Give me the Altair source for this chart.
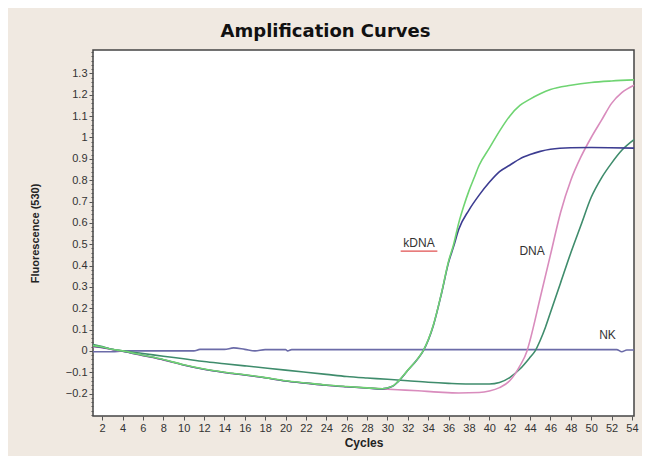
import altair as alt
import pandas as pd

# ---- data ----
GREEN_C = [1.1, 2, 3, 4, 6, 8, 10, 12, 14, 16, 18, 20, 22, 24, 26, 28, 29.5, 30.5, 31, 32, 33, 33.5, 34.5, 35.3, 36, 36.5,
           37, 37.5, 38, 38.5, 39, 40, 41, 42, 43, 44, 45, 46, 48, 50, 52, 54.2]
GREEN_V = [0.025, 0.018, 0.008, 0.0, -0.02, -0.04, -0.065, -0.085, -0.1, -0.112, -0.125, -0.14, -0.15, -0.16, -0.167, -0.173,
           -0.177, -0.165, -0.145, -0.09, -0.035, 0.0, 0.12, 0.27, 0.42, 0.5,
           0.6, 0.68, 0.75, 0.81, 0.87, 0.95, 1.03, 1.1, 1.15, 1.18, 1.205, 1.225, 1.245, 1.258, 1.265, 1.27]

BLUE_C = [1.1, 2, 3, 4, 6, 8, 10, 12, 14, 16, 18, 20, 22, 24, 26, 28, 29.5, 30.5, 31, 32, 33, 33.5, 34.5, 35.3, 36, 36.5,
          37, 38, 39, 40, 41, 42, 43, 44, 45, 46, 48, 50, 54.2]
BLUE_V = [0.022, 0.016, 0.007, -0.001, -0.021, -0.041, -0.066, -0.086, -0.101, -0.113, -0.126, -0.141, -0.151, -0.161, -0.168,
          -0.174, -0.178, -0.166, -0.146, -0.091, -0.036, -0.001, 0.118, 0.268, 0.415, 0.49,
          0.57, 0.66, 0.73, 0.79, 0.84, 0.87, 0.9, 0.92, 0.935, 0.945, 0.952, 0.953, 0.95]

PINK_C = [1.1, 2, 3, 4, 6, 8, 10, 12, 14, 16, 18, 20, 22, 24, 26, 28, 29.5, 31, 33, 35, 37, 39, 40, 41, 42, 42.5, 43,
          43.7, 44, 45, 46, 47, 48, 49, 50, 51, 52, 53, 54.2]
PINK_V = [0.02, 0.015, 0.006, -0.002, -0.022, -0.042, -0.066, -0.086, -0.101, -0.113, -0.126, -0.141, -0.151, -0.161, -0.168,
          -0.174, -0.178, -0.182, -0.187, -0.193, -0.197, -0.195, -0.188, -0.172, -0.14, -0.11, -0.07,
          0.0, 0.05, 0.25, 0.45, 0.65, 0.8, 0.91, 1.0, 1.08, 1.16, 1.21, 1.245]

TEAL_C = [1.1, 2, 3, 4, 6, 8, 10, 12, 14, 16, 18, 20, 22, 24, 26, 28, 30, 32, 34, 36, 38, 40, 41, 42, 43, 44, 44.5,
          45, 45.5, 46, 47, 48, 49, 50, 51, 52, 53, 54.2]
TEAL_V = [0.03, 0.02, 0.008, 0.0, -0.012, -0.025, -0.037, -0.05, -0.06, -0.07, -0.08, -0.09, -0.1, -0.11, -0.12, -0.127,
          -0.133, -0.14, -0.147, -0.152, -0.155, -0.155, -0.148, -0.125, -0.085, -0.03, 0.0,
          0.05, 0.11, 0.18, 0.32, 0.46, 0.59, 0.72, 0.81, 0.88, 0.94, 0.99]

NK_C = [1.1, 3, 4, 11, 11.6, 14, 14.9, 16, 17, 18, 20, 20.2, 20.6, 30, 40, 52.5, 53, 53.5, 54.2]
NK_V = [-0.004, -0.004, 0.0, 0.0, 0.007, 0.007, 0.014, 0.007, 0.0, 0.006, 0.006, 0.0, 0.006, 0.006, 0.006, 0.006, -0.004, 0.004, 0.004]

# drawing order: NK first, kDNA green last (on top)
SERIES = ["NK", "DNA b", "DNA a", "kDNA b", "kDNA a"]
COLORS = ["#6b6ba8", "#3f8c6c", "#d98cbd", "#3c3c91", "#6fd472"]
SERIES_C = [NK_C, TEAL_C, PINK_C, BLUE_C, GREEN_C]
SERIES_V = [NK_V, TEAL_V, PINK_V, BLUE_V, GREEN_V]

LABEL_TEXT = ["kDNA", "DNA", "NK"]
LABEL_C = [33.1, 44.2, 51.6]
LABEL_V = [0.505, 0.47, 0.075]

UNDERLINE_C = [31.3]
UNDERLINE_C2 = [34.9]
UNDERLINE_V = [0.468]

X_TICKS = [2, 4, 6, 8, 10, 12, 14, 16, 18, 20, 22, 24, 26, 28, 30, 32, 34, 36, 38, 40, 42, 44, 46, 48, 50, 52, 54]
Y_MINOR = [round(-0.3 + 0.02 * i, 2) for i in range(86)]

# ---- tables ----
rows = []
for k, (name, cs, vs) in enumerate(zip(SERIES, SERIES_C, SERIES_V)):
    for i, (c, v) in enumerate(zip(cs, vs)):
        rows.append({"series": name, "cycle": c, "value": v, "order": i, "z": k})
df = pd.DataFrame(rows)
labels = pd.DataFrame({"text": LABEL_TEXT, "cycle": LABEL_C, "value": LABEL_V})
uline = pd.DataFrame({"c1": UNDERLINE_C, "c2": UNDERLINE_C2, "v": UNDERLINE_V})

FONT = "Liberation Sans"
xscale = alt.Scale(domain=[1.1, 54.2], nice=False, zero=False)
yscale = alt.Scale(domain=[-0.305, 1.41], nice=False, zero=False)

major_test = "abs(datum.value*10 - round(datum.value*10)) < 0.001 && datum.value >= -0.21 && datum.value <= 1.31"

x_axis = alt.Axis(values=X_TICKS, title="Cycles", grid=False, domain=False, tickSize=4,
                  tickColor="#555", labelFont=FONT, labelFontSize=11, labelColor="#333",
                  labelPadding=2, titleFont=FONT, titleFontSize=12, titleFontWeight="bold",
                  titleColor="#222", titlePadding=4, labelOverlap=False, labelFlush=False)
y_axis = alt.Axis(values=Y_MINOR, title="Fluorescence (530)", grid=False, domain=False,
                  tickSize={"condition": {"test": major_test, "value": 4}, "value": 2},
                  tickColor="#555",
                  labelExpr=f"({major_test}) ? format(datum.value, '~g') : ''",
                  labelFont=FONT, labelFontSize=11, labelColor="#333", labelPadding=2,
                  labelOverlap=False, labelFlush=False,
                  titleFont=FONT, titleFontSize=11, titleFontWeight="bold", titleColor="#222",
                  titlePadding=25)

X = alt.X("cycle:Q", scale=xscale, axis=x_axis)
Y = alt.Y("value:Q", scale=yscale, axis=y_axis)

lines = alt.Chart(df).mark_line(strokeWidth=1.6, interpolate="monotone").encode(
    x=X, y=Y,
    color=alt.Color("series:N", scale=alt.Scale(domain=SERIES, range=COLORS), legend=None),
    order="order:Q",
)

text = alt.Chart(labels).mark_text(font=FONT, fontSize=12, color="#333").encode(
    x=X, y=Y, text="text:N")

ul = alt.Chart(uline).mark_rule(color="#e05050", strokeWidth=1.2).encode(
    x=alt.X("c1:Q", scale=xscale, axis=x_axis), x2="c2:Q",
    y=alt.Y("v:Q", scale=yscale, axis=y_axis))

chart = alt.layer(lines, ul, text).properties(
    width=541, height=366,
    title=alt.Title("Amplification Curves", font="DejaVu Sans", fontSize=18, fontWeight="bold", color="#111",
                    offset=5, anchor="middle", dx=-38),
    background="#f0e9e1",
    padding={"left": 85, "top": 42, "right": 8, "bottom": 40},
    autosize=alt.AutoSizeParams(type="none"),
).configure_view(stroke="#444", strokeWidth=1.5, fill="white").configure_axis(labelOverlap=False)

chart.save("out.html", embed_options={"renderer": "svg", "actions": False})
